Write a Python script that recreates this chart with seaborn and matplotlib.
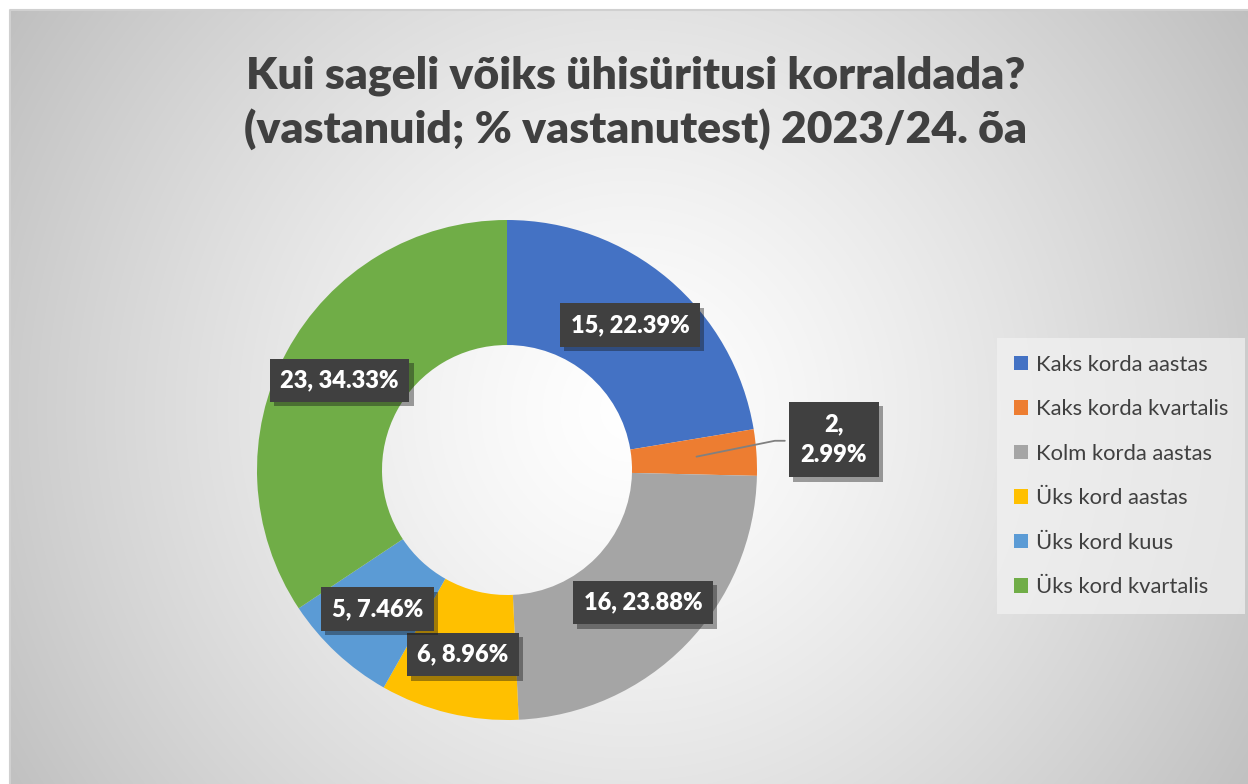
import numpy as np
import matplotlib
matplotlib.use("Agg")
import matplotlib.pyplot as plt
import matplotlib.patheffects as pe
import seaborn as sns

categories = ["Kaks korda aastas", "Kaks korda kvartalis", "Kolm korda aastas",
              "Üks kord aastas", "Üks kord kuus", "Üks kord kvartalis"]
counts = [15, 2, 16, 6, 5, 23]
percents = [22.39, 2.99, 23.88, 8.96, 7.46, 34.33]
colors = ["#4472C4", "#ED7D31", "#A5A5A5", "#FFC000", "#5B9BD5", "#70AD47"]
title = "Kui sageli võiks ühisüritusi korraldada?\n(vastanuid; % vastanutest) 2023/24. õa"

sns.set_theme(style="white")
plt.rcParams['font.family'] = ['Lato', 'DejaVu Sans']

W, H = 1248, 784
fig = plt.figure(figsize=(W / 100, H / 100), dpi=100)
fig.patch.set_facecolor("white")

# background gradient (chart area)
bg = fig.add_axes([10 / W, 0, (W - 10) / W, (H - 10) / H])
bw, bh = W - 10, H - 10
yy, xx = np.mgrid[0:bh, 0:bw]
cx, cy = 620, 400
d = np.sqrt((xx - cx) ** 2 + (yy - cy) ** 2)
d = d / np.sqrt(cx ** 2 + cy ** 2)
val = 1 - 0.25 * np.clip(d, 0, 1) ** 1.3
img = np.dstack([val, val, val])
bg.imshow(img, aspect="auto", extent=[0, 1, 0, 1], origin="upper")
bg.set_axis_off()
bg.plot([0, 0, 1], [0, 1, 1], color="#d0d0d0", lw=1.5, transform=bg.transAxes, clip_on=False)

# donut axes: center (507, 470) px, radius 250 px
R = 250
ccx, ccy = 507, 470
ax = fig.add_axes([(ccx - R) / W, (H - ccy - R) / H, 2 * R / W, 2 * R / H])
wedges, _ = ax.pie(counts, colors=colors, startangle=90, counterclock=False,
                   radius=1, wedgeprops=dict(width=0.5, edgecolor="none", linewidth=0))
ax.set_xlim(-1, 1)
ax.set_ylim(-1, 1)
ax.set_aspect("equal")
ax.set_axis_off()

for i, w in enumerate(wedges):
    mid = np.deg2rad((w.theta1 + w.theta2) / 2)
    if i == 1:
        lab = f"{counts[i]},\n{percents[i]:.2f}%"
        rx, ry = 0.76 * np.cos(mid), 0.76 * np.sin(mid)
        tx, ty = 1.312 * np.cos(mid + np.deg2rad(1.3)), 1.312 * np.sin(mid + np.deg2rad(1.3))
        ax.plot([rx, tx - 0.235, tx - 0.195], [ry, ty - 0.005, ty - 0.005],
                color="#808080", lw=1.3, zorder=3, clip_on=False)
        t = ax.text(tx, ty, lab, ha="center", va="center", color="white",
                    fontsize=17, fontweight="heavy", bbox=dict(boxstyle="square,pad=0.5",
                    facecolor="#404040", edgecolor="none"), linespacing=1.45, zorder=5)
    else:
        lab = f"{counts[i]}, {percents[i]:.2f}%"
        rr = 0.76
        t = ax.text(rr * np.cos(mid), rr * np.sin(mid), lab, ha="center", va="center",
                    color="white", fontsize=17, fontweight="heavy",
                    bbox=dict(boxstyle="square,pad=0.45", facecolor="#404040", edgecolor="none"),
                    zorder=5)
    t.get_bbox_patch().set_path_effects([pe.SimplePatchShadow(offset=(3, -3), alpha=0.4),
                                         pe.Normal()])

fig.text(636 / W, 1 - 103 / H, title, ha="center", va="center", fontsize=32,
         fontweight="heavy", color="#404040", linespacing=1.35)

handles = [plt.Rectangle((0, 0), 1, 1, facecolor=c, edgecolor="none") for c in colors]
leg = fig.legend(handles, categories, loc="center left",
                 bbox_to_anchor=(993 / W, 1 - 476 / H), frameon=True, fontsize=15.8,
                 handlelength=0.65, handleheight=0.65, handletextpad=0.35,
                 labelspacing=1.12, borderpad=0.45, labelcolor="#404040")
leg.get_frame().set_facecolor("#f2f2f2")
leg.get_frame().set_edgecolor("none")
leg.get_frame().set_alpha(0.7)
leg.get_frame().set_boxstyle("square")

fig.savefig("out.png", dpi=100, facecolor="white")
